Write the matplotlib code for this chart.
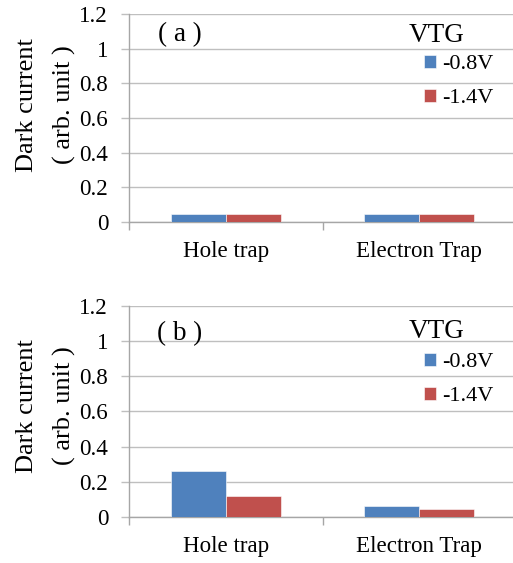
import matplotlib
matplotlib.use("Agg")
import matplotlib.pyplot as plt
from matplotlib.patches import Patch

plt.rcParams['font.family'] = ['Liberation Serif', 'DejaVu Serif']

# data
categories = ["Hole trap", "Electron Trap"]
series_names = ["-0.8V", "-1.4V"]
panel_a = {"-0.8V": [0.045, 0.045], "-1.4V": [0.045, 0.045]}
panel_b = {"-0.8V": [0.263, 0.060], "-1.4V": [0.117, 0.045]}
yticks = [0, 0.2, 0.4, 0.6, 0.8, 1.0, 1.2]
ytick_labels = ["0", "0.2", "0.4", "0.6", "0.8", "1", "1.2"]

colors = ["#4F81BD", "#C0504D"]
grid_c = "#BFBFBF"
spine_c = "#A6A6A6"
bw = 0.284

fig = plt.figure(figsize=(5.13, 5.63), dpi=100)

# panel positions: [left, bottom, width, height]
pos = [[0.2515, 0.6057, 0.7545, 0.3694],
       [0.2515, 0.0817, 0.7545, 0.3748]]
tags = ["( a )", "( b )"]
tag_y = [0.899, 0.87]
vtg_y = [0.899, 0.877]
leg_y = [0.675, 0.652]
lab_y = [0.5625, 0.526]

for i, data in enumerate([panel_a, panel_b]):
    ax = fig.add_axes(pos[i])
    x = range(len(categories))
    for j, name in enumerate(series_names):
        offs = [k + (j - 1) * bw + bw / 2 for k in x]
        ax.bar(offs, data[name], width=bw, color=colors[j],
               edgecolor="white", linewidth=0.4, zorder=3)

    ax.set_xlim(-0.5, 1.5)
    ax.set_ylim(0, 1.2)
    ax.set_yticks(yticks)
    ax.set_yticklabels(ytick_labels)
    ax.set_xticks(list(x))
    ax.set_xticklabels(categories)
    ax.set_xticks([-0.5, 0.5, 1.5], minor=True)

    ax.tick_params(axis="x", which="major", length=0, pad=14, labelsize=16.6)
    ax.tick_params(axis="x", which="minor", length=6, color=spine_c, width=1)
    ax.tick_params(axis="y", length=6, color=grid_c, width=1, pad=9,
                   labelsize=16.6)

    ax.grid(axis="y", color=grid_c, linewidth=1, zorder=0)
    for s in ["top", "right"]:
        ax.spines[s].set_visible(False)
    for s in ["left", "bottom"]:
        ax.spines[s].set_color(spine_c)
        ax.spines[s].set_linewidth(1)

    ax.text(0.132, tag_y[i], tags[i], transform=ax.transAxes, fontsize=19.5,
            ha="center", va="center")
    ax.text(-0.215, lab_y[i], "Dark current\n( arb. unit )",
            transform=ax.transAxes, rotation=90, fontsize=19,
            ha="center", va="center", multialignment="center",
            linespacing=1.85)

    ax.text(0.796, vtg_y[i], "VTG", transform=ax.transAxes, fontsize=19.5,
            ha="center", va="center")
    handles = [Patch(facecolor=c, edgecolor="white", linewidth=0.4) for c in colors]
    ax.legend(handles, series_names, loc="center left",
              bbox_to_anchor=(0.762, leg_y[i]), frameon=False, fontsize=16,
              handlelength=0.55, handleheight=0.55, handletextpad=0.25,
              labelspacing=0.65, borderpad=0, borderaxespad=0)

fig.savefig("out.png", dpi=100)
